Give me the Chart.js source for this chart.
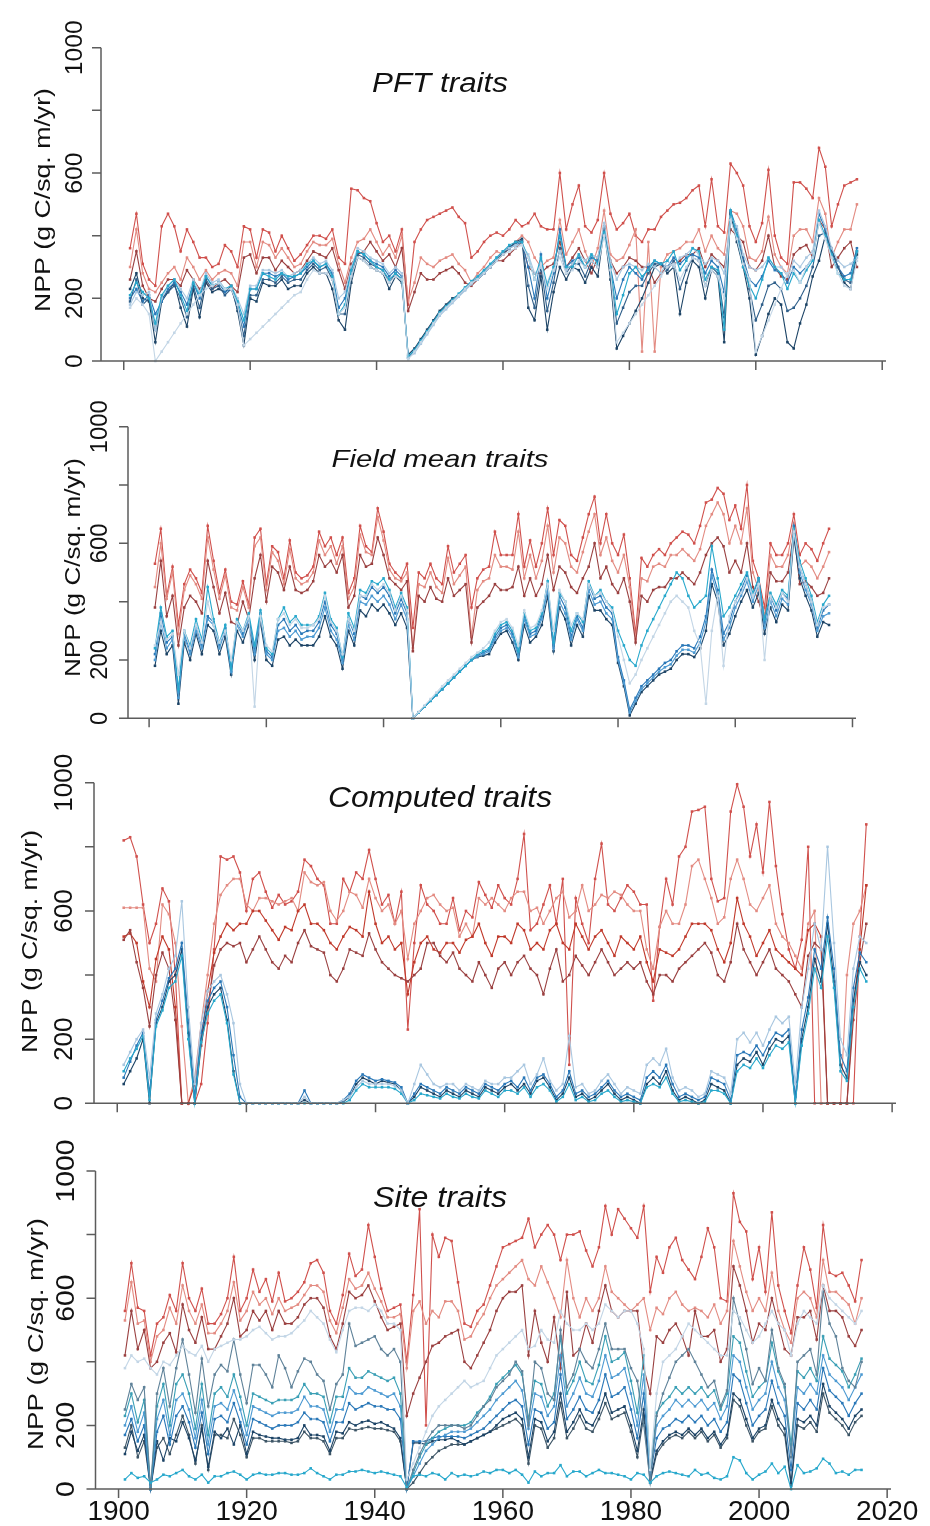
<!DOCTYPE html>
<html>
<head>
<meta charset="utf-8">
<script src="https://cdn.jsdelivr.net/npm/chart.js@4.4.1/dist/chart.umd.min.js"></script>
<style>
  body { margin: 0; background: #fff; width: 930px; height: 1526px; position: relative; overflow: hidden; }
  canvas { position: absolute; left: 0; }
</style>
</head>
<body>
<canvas id="p1" width="930" height="395" style="top:0px"></canvas>
<canvas id="p2" width="930" height="350" style="top:395px"></canvas>
<canvas id="p3" width="930" height="385" style="top:745px"></canvas>
<canvas id="p4" width="930" height="396" style="top:1130px"></canvas>
<script>
// years on the x axis
const years = [
  1901, 1902, 1903, 1904, 1905, 1906, 1907, 1908, 1909, 1910,
  1911, 1912, 1913, 1914, 1915, 1916, 1917, 1918, 1919, 1920,
  1921, 1922, 1923, 1924, 1925, 1926, 1927, 1928, 1929, 1930,
  1931, 1932, 1933, 1934, 1935, 1936, 1937, 1938, 1939, 1940,
  1941, 1942, 1943, 1944, 1945, 1946, 1947, 1948, 1949, 1950,
  1951, 1952, 1953, 1954, 1955, 1956, 1957, 1958, 1959, 1960,
  1961, 1962, 1963, 1964, 1965, 1966, 1967, 1968, 1969, 1970,
  1971, 1972, 1973, 1974, 1975, 1976, 1977, 1978, 1979, 1980,
  1981, 1982, 1983, 1984, 1985, 1986, 1987, 1988, 1989, 1990,
  1991, 1992, 1993, 1994, 1995, 1996, 1997, 1998, 1999, 2000,
  2001, 2002, 2003, 2004, 2005, 2006, 2007, 2008, 2009, 2010,
  2011, 2012, 2013, 2014, 2015, 2016
];
const xTicks = [1900, 1920, 1940, 1960, 1980, 2000, 2020];
const yTicks = [0, 200, 400, 600, 800, 1000];
const yTickLabels = [0, 200, 600, 1000];
const yTitle = "NPP (g C/sq. m/yr)";
const panelTitles = ["PFT traits", "Field mean traits", "Computed traits", "Site traits"];

// ---- panel 1: PFT traits ----
const p1Red1 = [
  360, 470, 310, 260, 240, 430, 470, 430, 350, 420,
  380, 330, 330, 300, 310, 370, 350, 300, 430, 420,
  330, 420, 410, 350, 400, 360, 320, 340, 370, 400,
  400, 390, 420, 330, 310, 550, 545, 520, 510, 440,
  380, 400, 350, 420, 180, 380, 420, 450, 460, 470,
  480, 490, 460, 440, 330, 350, 380, 400, 410, 400,
  420, 450, 430, 440, 470, 430, 420, 420, 600, 420,
  500, 560, 430, 410, 450, 600, 470, 420, 440, 470,
  400, 380, 420, 420, 460, 480, 500, 505, 520, 545,
  560, 430, 580, 430, 410, 630, 600, 560, 430, 380,
  440, 610, 400, 330, 310, 570, 570, 550, 520, 680,
  620, 430, 500, 560, 570, 580
];
const p1Red2 = [
  300, 420, 280, 230, 220, 250, 280, 300, 260, 330,
  300, 260, 290, 260, 280, 290, 280, 240, 380, 380,
  300, 380, 370, 330, 360, 330, 300, 310, 350, 380,
  370, 370, 390, 310, 250, 330, 380, 390, 420, 380,
  340, 370, 330, 400, 190, 250, 330, 310, 300, 320,
  330, 340, 310, 290, 250, 280, 300, 330, 350, 340,
  360, 380, 400, 380, 330, 300, 320, 330, 450, 340,
  380, 420, 350, 300, 360, 480, 340, 320, 330, 370,
  420, 30, 380, 30, 300, 340, 350, 360, 380, 380,
  420, 350, 400, 360, 340, 480, 470, 430, 330, 320,
  350, 460, 340, 300, 280, 400, 420, 420, 380, 520,
  470, 330, 380, 420, 420, 500
];
const p1Red3 = [
  260, 350, 240, 200, 190, 230, 260, 260, 240, 290,
  260, 230, 250, 230, 250, 260, 240, 220, 330, 340,
  280, 330, 330, 290, 320, 300, 280, 290, 320, 350,
  340, 330, 360, 290, 230, 310, 340, 350, 380, 350,
  320, 340, 300, 360, 160, 220, 280, 260, 260, 280,
  290, 300, 280, 250, 240, 260, 280, 300, 320, 320,
  340, 360, 380, 300, 280, 280, 300, 310, 380, 300,
  330, 360, 320, 280, 330, 420, 320, 280, 300, 330,
  320, 300, 300, 250, 280, 300, 310, 320, 340, 340,
  360, 300, 340, 320, 300, 420, 400, 380, 300, 290,
  320, 400, 300, 270, 260, 340, 360, 370, 330, 450,
  420, 300, 330, 360, 380, 300
];
const p1Blue1 = [
  230, 280, 200, 190, 60, 190, 220, 250, 170, 110,
  230, 140, 250, 220, 230, 220, 240, 160, 50, 200,
  190, 250, 240, 240, 260, 230, 240, 240, 280, 300,
  280, 280, 230, 130, 100, 250, 330, 320, 300, 290,
  280, 230, 270, 250, 20, 40, 70, 100, 130, 160,
  180, 200, 210, 230, 250, 260, 280, 300, 320, 340,
  360, 380, 390, 170, 130, 270, 100, 220, 300, 260,
  300, 290, 250, 300, 270, 420, 260, 40, 80, 120,
  160, 200, 250, 300, 310, 280, 300, 150, 250, 320,
  300, 200, 290, 270, 60, 470, 380, 300, 200, 20,
  80, 150, 200, 180, 60, 40, 120, 180, 270, 320,
  400, 360, 300, 250, 230, 340
];
const p1Blue2 = [
  200, 230, 190, 210, 150, 190, 230, 250, 220, 180,
  250, 200, 270, 240, 250, 220, 230, 180, 110, 230,
  230, 280, 280, 270, 280, 260, 270, 280, 300, 320,
  300, 310, 280, 170, 200, 290, 350, 340, 320, 310,
  300, 270, 290, 270, 10, 30, 60, 90, 120, 150,
  170, 190, 210, 230, 250, 260, 280, 300, 330, 350,
  360, 370, 380, 300, 200, 340, 200, 280, 420, 300,
  320, 330, 300, 330, 320, 430, 300, 200, 260, 300,
  280, 260, 300, 320, 310, 300, 330, 310, 330, 340,
  330, 280, 320, 300, 220, 480, 420, 330, 260, 240,
  270, 320, 290, 280, 250, 300, 280, 300, 330, 470,
  420, 350, 300, 270, 280, 360
];
const p1Blue3 = [
  180, 220, 210, 220, 100, 200, 240, 260, 230, 200,
  260, 220, 280, 250, 260, 230, 240, 200, 150, 240,
  240, 290, 290, 280, 290, 270, 280, 290, 310, 330,
  310, 320, 290, 200, 220, 300, 360, 350, 330, 320,
  310, 280, 300, 280, 10, 25, 55, 85, 115, 145,
  165, 185, 205, 225, 245, 265, 285, 305, 330, 350,
  360, 370, 370, 340, 280, 300, 250, 300, 350, 290,
  310, 340, 320, 340, 330, 440, 320, 260, 300, 310,
  300, 290, 310, 300, 280, 320, 300, 330, 340, 360,
  340, 310, 330, 320, 280, 460, 430, 340, 300, 290,
  300, 330, 300, 300, 270, 320, 300, 330, 350, 480,
  430, 360, 320, 300, 310, 330
];
const p1Blue4 = [
  210, 250, 220, 200, 120, 210, 240, 260, 210, 160,
  250, 210, 270, 240, 250, 230, 240, 190, 130, 230,
  230, 280, 270, 260, 280, 270, 270, 280, 310, 320,
  300, 310, 270, 150, 180, 290, 350, 340, 320, 300,
  290, 260, 280, 260, 15, 35, 65, 95, 125, 155,
  175, 195, 215, 235, 255, 270, 290, 310, 330, 350,
  370, 380, 380, 330, 260, 330, 240, 300, 400, 300,
  300, 340, 300, 340, 310, 410, 300, 150, 210, 280,
  300, 270, 290, 320, 310, 320, 350, 290, 320, 360,
  350, 260, 300, 290, 100, 480, 400, 300, 240, 200,
  260, 330, 300, 280, 230, 280, 250, 290, 320, 450,
  400, 340, 280, 260, 260, 350
];
const p1Blue5 = [
  170, 200, 180, 150, 0, 30, 60, 90, 120, 150,
  180, 210, 230, 240, 250, 230, 230, 180, 50, 70,
  90, 110, 130, 150, 170, 190, 210, 220, 260, 290,
  280, 280, 260, 150, 170, 270, 330, 320, 300, 290,
  280, 250, 270, 260, 5, 30, 60, 90, 120, 150,
  170, 190, 210, 230, 250, 260, 280, 300, 320, 340,
  350, 360, 370, 330, 260, 310, 230, 290, 330, 280,
  290, 320, 300, 320, 300, 400, 290, 60, 90, 120,
  150, 180, 210, 240, 270, 300, 310, 260, 300, 330,
  320, 240, 290, 270, 200, 450, 390, 310, 260, 30,
  80, 130, 180, 230, 280, 290, 250, 300, 330, 440,
  390, 330, 280, 240, 230, 320
];
const p1Blue6 = [
  190, 260, 180, 200, 100, 200, 220, 240, 200, 140,
  240, 170, 260, 230, 240, 210, 230, 170, 80, 210,
  210, 260, 260, 250, 270, 250, 260, 260, 290, 310,
  290, 300, 260, 150, 150, 270, 340, 330, 310, 300,
  290, 250, 280, 260, 10, 35, 65, 95, 125, 155,
  175, 195, 210, 230, 250, 265, 285, 305, 325, 345,
  365, 375, 385, 240, 170, 300, 160, 250, 360, 280,
  310, 310, 270, 320, 300, 425, 280, 120, 170, 220,
  240, 240, 280, 310, 310, 290, 320, 230, 290, 330,
  320, 240, 300, 280, 140, 475, 400, 320, 230, 130,
  180, 240, 250, 230, 160, 170, 200, 240, 300, 400,
  410, 350, 300, 260, 250, 350
];

// ---- panel 2: Field mean traits ----
const p2Red1 = [
  530, 650, 420, 520, 320, 460, 510, 480, 430, 660,
  540, 430, 510, 400, 390, 470, 390, 620, 650, 460,
  590, 570, 480, 610, 500, 480, 490, 520, 640, 590,
  620, 560, 620, 430, 480, 660, 590, 570, 720, 640,
  530, 500, 480, 530, 310, 500, 480, 530, 480, 460,
  590, 500, 530, 560, 380, 480, 510, 520, 640, 560,
  560, 560, 700, 520, 610, 520, 600, 720, 560, 680,
  660, 560, 540, 620, 700, 760, 600, 700, 600, 560,
  630, 480, 290, 550, 520, 560, 580, 560, 600, 620,
  640, 630, 600, 660, 740, 750, 790, 770, 680, 730,
  650, 800, 540, 480, 380, 600, 560, 560, 600, 700,
  560, 600, 580, 540, 600, 650
];
const p2Red2 = [
  450, 600, 410, 500, 290, 440, 490, 460, 410, 620,
  510, 410, 490, 380, 370, 450, 380, 590, 620, 440,
  570, 540, 460, 580, 480, 460, 470, 500, 610, 560,
  590, 530, 590, 410, 450, 630, 570, 560, 690, 610,
  510, 480, 470, 500, 240, 460, 450, 500, 450, 430,
  550, 460, 490, 520, 280, 440, 470, 480, 560, 520,
  520, 510, 640, 480, 560, 480, 540, 660, 500, 620,
  600, 520, 500, 570, 640, 700, 560, 620, 540, 500,
  560, 450, 270, 480, 470, 520, 530, 520, 560, 560,
  580, 560, 540, 580, 660, 700, 740, 700, 600, 660,
  600, 720, 500, 440, 350, 560, 520, 520, 560, 670,
  520, 540, 520, 480, 520, 570
];
const p2Red3 = [
  380, 540, 350, 420, 250, 380, 420, 400, 360, 540,
  450, 360, 430, 330, 320, 400, 340, 480, 560, 400,
  520, 500, 440, 520, 440, 430, 440, 470, 560, 520,
  540, 500, 560, 380, 420, 560, 520, 530, 620, 560,
  480, 460, 440, 470, 230, 420, 400, 450, 410, 400,
  480, 420, 440, 460, 260, 380, 400, 420, 460, 440,
  440, 450, 520, 420, 480, 420, 460, 560, 440, 520,
  500, 450, 430, 480, 520, 600, 480, 520, 460, 430,
  480, 400, 260, 420, 400, 440, 450, 450, 480, 480,
  500, 480, 460, 500, 560, 600, 620, 590, 500, 540,
  500, 600, 450, 400, 330, 500, 470, 470, 500, 640,
  460, 470, 450, 420, 430, 480
];
const p2Blue1 = [
  180, 300, 220, 250, 50, 260, 200, 290, 220, 320,
  300, 220, 280, 150, 300, 260, 320, 200, 330, 200,
  180, 270, 280, 250, 270, 250, 250, 250, 280, 350,
  280, 250, 170, 300, 250, 370, 350, 390, 370, 390,
  360, 320, 360, 310, 0, 20, 40, 60, 80, 100,
  120, 140, 160, 180, 200, 210, 215, 220, 260, 290,
  300, 260, 200, 320, 260, 280, 320, 420, 230, 380,
  340, 250, 320, 280, 420, 370, 370, 340, 320, 190,
  110, 10, 50, 90, 110, 130, 150, 160, 170, 200,
  220, 220, 210, 240, 300, 460, 400, 250, 290, 350,
  400, 440, 380, 430, 290, 380, 330, 390, 370, 620,
  480, 420, 370, 280, 330, 320
];
const p2Blue2 = [
  220, 360, 260, 280, 90, 290, 230, 320, 250, 350,
  330, 250, 310, 160, 330, 290, 350, 230, 360, 230,
  210, 320, 340, 300, 320, 290, 300, 300, 330, 400,
  320, 290, 200, 340, 290, 420, 410, 450, 430, 450,
  420, 360, 410, 360, 0, 20, 40, 60, 80, 100,
  120, 140, 160, 180, 200, 215, 225, 235, 280, 310,
  320, 290, 220, 350, 290, 300, 350, 460, 250, 420,
  380, 280, 350, 310, 460, 410, 420, 380, 360, 210,
  130, 30, 70, 110, 130, 150, 170, 190, 200, 230,
  250, 250, 240, 280, 350, 510, 440, 290, 330, 400,
  440, 490, 420, 480, 330, 420, 370, 430, 410, 660,
  520, 460, 400, 310, 370, 390
];
const p2Blue3 = [
  240, 380, 280, 300, 100, 300, 250, 340, 270, 450,
  340, 260, 320, 170, 340, 300, 360, 250, 370, 240,
  220, 340, 380, 330, 350, 320, 320, 320, 350, 430,
  340, 310, 210, 360, 310, 440, 430, 470, 460, 480,
  440, 380, 430, 380, 0, 20, 40, 60, 80, 100,
  120, 140, 160, 180, 200, 220, 230, 240, 290, 320,
  330, 300, 230, 360, 300, 310, 360, 470, 260, 430,
  400, 300, 360, 330, 470, 420, 440, 400, 380, 300,
  250, 200, 180, 250, 300, 340, 380, 420, 460, 500,
  480, 420, 380, 400, 420, 590, 480, 350, 380, 420,
  460, 500, 430, 480, 340, 430, 390, 440, 420, 650,
  540, 480, 420, 330, 390, 420
];
const p2Blue4 = [
  250, 330, 270, 290, 150, 300, 240, 320, 260, 400,
  320, 260, 300, 200, 330, 300, 350, 40, 350, 250,
  230, 340, 360, 320, 340, 310, 310, 320, 340, 420,
  330, 300, 220, 340, 300, 420, 420, 460, 440, 460,
  430, 370, 420, 370, 0, 22, 44, 66, 88, 110,
  130, 150, 170, 190, 210, 225, 240, 260, 300, 330,
  340, 310, 250, 370, 310, 320, 370, 460, 300, 440,
  400, 320, 360, 340, 460, 420, 430, 400, 370, 280,
  200, 120, 150, 200, 240, 280, 320, 360, 400, 420,
  400, 380, 300, 250, 50, 300, 420, 180, 350, 400,
  430, 480, 420, 460, 200, 420, 380, 430, 400, 640,
  520, 460, 400, 320, 380, 390
];
const p2Blue5 = [
  200, 330, 240, 270, 70, 280, 220, 300, 240, 340,
  320, 240, 300, 160, 320, 280, 340, 220, 350, 220,
  200, 300, 310, 280, 300, 270, 280, 280, 310, 380,
  300, 270, 190, 320, 270, 400, 390, 420, 400, 420,
  390, 340, 390, 340, 0, 20, 40, 60, 80, 100,
  120, 140, 160, 180, 200, 212, 220, 230, 270, 300,
  310, 280, 210, 340, 280, 290, 340, 440, 240, 400,
  360, 270, 340, 300, 440, 390, 400, 360, 340, 200,
  120, 20, 60, 100, 120, 140, 160, 175, 185, 215,
  235, 235, 225, 260, 330, 490, 420, 270, 310, 380,
  420, 470, 400, 460, 310, 400, 350, 410, 390, 640,
  500, 440, 390, 300, 350, 360
];

// ---- panel 3: Computed traits ----
const p3Red1 = [
  820, 830, 770, 620, 500, 560, 670, 630, 400, 0,
  0, 0, 60, 250, 480, 770, 760, 770, 720, 600,
  700, 720, 660, 610, 650, 620, 630, 660, 760, 740,
  700, 680, 560, 560, 700, 660, 720, 700, 790, 700,
  620, 650, 560, 660, 230, 500, 680, 620, 600, 560,
  560, 640, 540, 600, 580, 690, 650, 610, 680, 640,
  620, 700, 840, 540, 560, 620, 680, 560, 700, 120,
  640, 560, 500, 700, 810, 620, 600, 640, 680, 660,
  620, 620, 320, 550, 700, 620, 770, 800, 910, 915,
  925, 700, 630, 640, 910, 995, 925, 770, 870, 720,
  940, 740, 590, 480, 420, 510, 800, 0, 0, 0,
  0, 0, 0, 0, 520, 870
];
const p3Red2 = [
  610, 610, 610, 610, 420, 380, 620, 590, 500, 240,
  0, 80, 250, 400, 560, 650, 680, 700, 700, 620,
  600, 640, 640, 630, 620, 630, 640, 600, 720, 690,
  680, 690, 600, 570, 600, 660, 650, 610, 700, 640,
  600, 620, 560, 600, 450, 560, 600, 640, 650, 620,
  600, 610, 520, 560, 520, 640, 620, 640, 620, 600,
  640, 660, 660, 600, 610, 560, 600, 640, 660, 580,
  600, 680, 600, 620, 650, 640, 660, 650, 620, 600,
  600, 480, 420, 550, 600, 560, 560, 620, 740, 760,
  700, 640, 560, 580, 700, 760, 700, 620, 600, 640,
  680, 560, 520, 500, 460, 420, 560, 600, 0, 0,
  0, 0, 400, 560, 600, 680
];
const p3Red3 = [
  520, 530, 500, 380, 300, 450, 520, 480, 300, 0,
  0, 60, 200, 350, 470, 520, 560, 540, 560, 560,
  600, 600, 570, 540, 510, 550, 540, 600, 620, 560,
  560, 540, 500, 480, 520, 550, 540, 520, 660, 560,
  500, 520, 480, 500, 340, 440, 500, 520, 480, 470,
  500, 500, 470, 510, 520, 560, 500, 460, 520, 520,
  500, 560, 540, 480, 500, 480, 540, 560, 500, 480,
  560, 520, 480, 520, 540, 500, 460, 520, 500, 480,
  520, 440, 380, 480, 470, 460, 480, 520, 560, 560,
  560, 540, 480, 440, 500, 640, 560, 520, 460, 500,
  540, 480, 460, 440, 420, 400, 540, 560, 520, 0,
  0, 0, 0, 300, 480, 680
];
const p3Red4 = [
  510, 540, 440, 360, 240, 400, 470, 420, 260, 0,
  0, 0, 180, 300, 430, 480, 500, 490, 500, 440,
  480, 520, 480, 440, 420, 460, 440, 500, 540, 490,
  480, 470, 400, 380, 420, 480, 470, 460, 530, 480,
  440, 420, 400, 390, 380, 400, 420, 500, 500, 460,
  440, 470, 420, 400, 380, 440, 400, 360, 420, 440,
  400, 440, 460, 420, 400, 340, 420, 480, 380, 400,
  460, 430, 400, 440, 480, 440, 400, 420, 440, 420,
  440, 380, 340, 400, 400, 380, 420, 440, 460, 480,
  500, 470, 400, 380, 440, 560, 480, 440, 400, 440,
  480, 420, 400, 380, 340, 300, 460, 500, 480, 0,
  0, 0, 0, 260, 440, 560
];
const p3Blue1 = [
  60, 100, 140, 200, 0, 250, 300, 380, 400, 480,
  220, 0, 200, 300, 340, 360, 260, 100, 0, 0,
  0, 0, 0, 0, 0, 0, 0, 0, 10, 0,
  0, 0, 0, 0, 5, 20, 60, 80, 70, 60,
  70, 65, 60, 40, 0, 20, 50, 40, 30, 20,
  40, 30, 20, 40, 30, 20, 50, 40, 30, 50,
  60, 40, 60, 30, 70, 80, 50, 10, 30, 80,
  20, 30, 10, 20, 40, 60, 30, 10, 20, 10,
  0, 60, 80, 60, 100, 40, 10, 20, 10, 0,
  10, 60, 50, 40, 0, 120, 140, 130, 160, 120,
  170, 200, 190, 210, 0, 200, 300, 450, 380, 560,
  380, 120, 80, 320, 440, 400
];
const p3Blue2 = [
  80, 130, 180, 220, 30, 260, 320, 390, 420, 500,
  260, 20, 220, 320, 360, 380, 300, 150, 20, 0,
  0, 0, 0, 0, 0, 0, 0, 0, 40, 0,
  0, 0, 0, 0, 10, 30, 70, 90, 80, 70,
  75, 70, 65, 50, 0, 30, 60, 50, 40, 30,
  50, 40, 30, 50, 40, 30, 60, 50, 40, 60,
  70, 50, 80, 40, 80, 90, 60, 20, 40, 100,
  30, 40, 20, 30, 50, 70, 40, 20, 30, 20,
  10, 80, 100, 80, 120, 60, 20, 30, 20, 10,
  20, 80, 70, 60, 10, 150, 160, 150, 180, 150,
  190, 220, 210, 230, 20, 230, 330, 480, 420, 580,
  420, 150, 100, 360, 470, 440
];
const p3Blue3 = [
  120, 160, 200, 230, 80, 280, 340, 420, 460, 630,
  300, 60, 250, 350, 380, 400, 340, 250, 60, 0,
  0, 0, 0, 0, 0, 0, 0, 0, 20, 0,
  0, 0, 0, 0, 10, 20, 50, 70, 60, 60,
  60, 60, 55, 40, 0, 60, 120, 90, 60, 50,
  60, 60, 40, 60, 50, 40, 70, 60, 60, 80,
  80, 100, 120, 60, 90, 140, 70, 40, 60, 210,
  50, 60, 30, 40, 70, 90, 60, 30, 50, 40,
  30, 120, 140, 120, 170, 80, 40, 50, 40, 20,
  30, 100, 90, 80, 30, 200, 220, 190, 220, 180,
  230, 270, 250, 270, 60, 300, 420, 560, 480, 800,
  500, 200, 150, 420, 520, 500
];
const p3Blue4 = [
  100, 140, 170, 210, 10, 240, 290, 360, 380, 460,
  200, 0, 190, 280, 320, 340, 250, 90, 0, 0,
  0, 0, 0, 0, 0, 0, 0, 0, 0, 0,
  0, 0, 0, 0, 0, 10, 40, 60, 50, 50,
  50, 50, 45, 30, 0, 10, 30, 25, 20, 15,
  30, 20, 15, 30, 20, 15, 40, 30, 20, 40,
  40, 30, 50, 20, 50, 60, 40, 5, 20, 60,
  10, 20, 5, 10, 30, 40, 20, 5, 10, 5,
  0, 50, 60, 50, 80, 30, 5, 10, 5, 0,
  5, 40, 40, 30, 0, 100, 120, 110, 140, 110,
  150, 180, 170, 190, 0, 180, 280, 420, 360, 520,
  360, 100, 70, 300, 420, 380
];

// ---- panel 4: Site traits ----
const p4Red1 = [
  560, 710, 570, 560, 420, 520, 540, 610, 560, 710,
  600, 560, 630, 520, 520, 550, 600, 730, 560, 600,
  690, 620, 660, 590, 680, 590, 600, 620, 650, 710,
  720, 680, 560, 520, 610, 740, 670, 690, 830, 730,
  630, 560, 570, 580, 400, 610, 880, 200, 800, 730,
  790, 780, 650, 520, 510, 560, 580, 640, 700, 760,
  770, 780, 790, 850, 760, 800, 830, 800, 720, 800,
  800, 810, 750, 700, 760, 890, 800, 880, 850, 820,
  790, 890, 620, 730, 680, 760, 790, 720, 690, 660,
  730, 820, 760, 600, 590, 930, 840, 810, 660, 760,
  620, 870, 640, 560, 490, 640, 760, 690, 570, 830,
  680, 670, 680, 640, 590, 720
];
const p4Red2 = [
  530, 650, 520, 530, 400, 480, 500, 570, 520, 640,
  560, 520, 580, 490, 490, 520, 560, 650, 530, 560,
  620, 580, 600, 550, 600, 560, 570, 580, 610, 640,
  640, 620, 530, 490, 570, 660, 630, 640, 680, 630,
  590, 540, 540, 550, 380, 560, 590, 520, 560, 540,
  590, 590, 560, 470, 480, 520, 550, 600, 640, 660,
  680, 700, 720, 660, 640, 700, 650, 600, 540, 720,
  600, 540, 600, 560, 600, 700, 620, 600, 580, 560,
  580, 600, 500, 570, 550, 600, 620, 580, 560, 570,
  560, 540, 580, 520, 560, 780, 700, 620, 560, 600,
  560, 680, 560, 500, 460, 600, 620, 600, 540, 720,
  620, 620, 600, 580, 520, 600
];
const p4Red3 = [
  420, 560, 440, 500, 380, 400, 460, 490, 430, 580,
  500, 460, 540, 440, 440, 480, 520, 600, 480, 500,
  560, 530, 560, 500, 560, 520, 520, 540, 580, 600,
  600, 570, 480, 440, 520, 620, 600, 610, 640, 590,
  540, 500, 510, 520, 230, 300, 350, 400, 450, 460,
  480, 490, 500, 400, 380, 420, 460, 500, 560, 600,
  620, 620, 640, 420, 560, 460, 400, 540, 380, 620,
  420, 440, 520, 460, 560, 640, 560, 540, 560, 560,
  560, 380, 300, 480, 460, 500, 520, 480, 420, 560,
  480, 480, 500, 400, 440, 700, 640, 560, 460, 520,
  500, 600, 520, 440, 420, 540, 540, 560, 470, 640,
  560, 560, 540, 480, 450, 500
];
const p4Light = [
  380, 420, 400, 410, 380, 360, 400, 390, 420, 450,
  430, 420, 450, 400, 440, 450, 460, 470, 470, 480,
  500, 510, 490, 470, 480, 480, 490, 510, 530, 560,
  540, 520, 470, 430, 500, 560, 570, 570, 560, 580,
  560, 520, 520, 500, 30, 80, 130, 180, 230, 260,
  280, 300, 320, 340, 320, 330, 340, 380, 420, 440,
  460, 480, 500, 440, 450, 500, 470, 460, 560, 520,
  500, 500, 520, 500, 520, 580, 560, 540, 560, 560,
  520, 440, 60, 300, 400, 420, 440, 480, 520, 500,
  480, 460, 440, 420, 420, 560, 540, 500, 460, 480,
  520, 560, 520, 500, 420, 520, 560, 540, 520, 640,
  600, 580, 560, 540, 520, 560
];
const p4Gray = [
  250, 330, 280, 320, 0, 300, 380, 260, 380, 470,
  360, 240, 410, 260, 360, 390, 370, 470, 360, 270,
  390, 390, 360, 320, 420, 380, 320, 370, 410, 400,
  360, 340, 250, 330, 360, 520, 450, 460, 470, 480,
  440, 420, 440, 400, 0, 60, 110, 150, 180, 200,
  200, 200, 200, 190, 200, 230, 260, 280, 320, 340,
  360, 400, 370, 200, 400, 380, 300, 280, 500, 320,
  360, 440, 400, 380, 440, 520, 440, 440, 440, 380,
  340, 200, 20, 230, 300, 350, 400, 420, 440, 400,
  360, 320, 340, 260, 310, 600, 520, 440, 330, 380,
  340, 500, 380, 330, 100, 400, 420, 440, 360, 620,
  520, 480, 380, 340, 320, 400
];
const p4Teal = [
  230, 300, 210, 280, 0, 260, 330, 200, 330, 360,
  300, 190, 330, 170, 300, 320, 290, 360, 290, 200,
  300, 290, 280, 270, 280, 280, 280, 290, 330, 300,
  300, 290, 210, 290, 290, 380, 350, 350, 370, 360,
  350, 340, 350, 300, 0, 50, 100, 140, 160, 180,
  190, 200, 200, 200, 210, 240, 260, 290, 330, 350,
  370, 390, 360, 220, 340, 330, 260, 300, 480, 300,
  340, 400, 340, 330, 390, 480, 400, 410, 430, 340,
  240, 420, 60, 240, 270, 290, 320, 300, 320, 300,
  320, 290, 310, 250, 300, 480, 460, 370, 290, 320,
  340, 460, 370, 320, 140, 370, 350, 380, 340, 480,
  410, 390, 370, 320, 360, 410
];
const p4BlueA = [
  200, 260, 180, 240, 0, 220, 280, 170, 280, 300,
  250, 160, 280, 140, 260, 270, 250, 310, 250, 170,
  260, 250, 240, 230, 240, 240, 240, 250, 290, 260,
  260, 250, 180, 250, 250, 320, 300, 300, 320, 310,
  300, 290, 300, 260, 0, 40, 80, 120, 140, 160,
  170, 180, 180, 180, 190, 210, 230, 250, 280, 300,
  320, 340, 310, 190, 300, 290, 230, 260, 420, 260,
  300, 350, 300, 290, 340, 420, 350, 360, 380, 300,
  200, 360, 50, 200, 230, 250, 280, 260, 280, 260,
  280, 250, 270, 220, 260, 420, 400, 320, 250, 280,
  300, 400, 320, 280, 120, 320, 300, 330, 300, 420,
  360, 340, 320, 280, 320, 360
];
const p4BlueB = [
  170, 220, 150, 200, 0, 180, 230, 140, 230, 260,
  210, 130, 240, 110, 220, 230, 210, 270, 210, 140,
  220, 210, 200, 190, 200, 200, 200, 210, 240, 220,
  220, 210, 150, 210, 210, 270, 250, 260, 270, 260,
  260, 250, 250, 220, 0, 150, 150, 150, 160, 165,
  165, 165, 165, 160, 170, 180, 190, 210, 230, 250,
  270, 280, 260, 140, 250, 240, 190, 210, 360, 220,
  250, 290, 250, 240, 280, 360, 290, 300, 320, 250,
  160, 300, 40, 160, 190, 200, 220, 210, 230, 210,
  230, 200, 220, 180, 210, 360, 340, 270, 200, 230,
  250, 340, 270, 230, 60, 270, 250, 280, 250, 380,
  310, 290, 270, 230, 270, 300
];
const p4BlueC = [
  110, 180, 120, 170, 0, 150, 90, 160, 150, 210,
  160, 90, 190, 70, 180, 160, 190, 140, 200, 110,
  180, 170, 165, 160, 160, 155, 155, 160, 200, 170,
  170, 165, 120, 180, 175, 210, 200, 210, 215, 205,
  210, 200, 190, 160, 0, 145, 145, 140, 150, 155,
  155, 160, 150, 140, 150, 160, 170, 180, 200, 220,
  230, 240, 220, 100, 220, 210, 150, 180, 300, 180,
  210, 250, 210, 200, 240, 300, 240, 250, 260, 200,
  120, 250, 30, 120, 150, 170, 180, 170, 190, 170,
  190, 160, 180, 140, 170, 300, 280, 220, 160, 190,
  200, 280, 220, 190, 20, 220, 210, 230, 200, 330,
  260, 240, 220, 190, 230, 250
];
const p4DarkGray = [
  130, 200, 100, 150, 0, 130, 160, 110, 170, 230,
  170, 80, 200, 60, 170, 170, 160, 220, 170, 100,
  160, 160, 150, 150, 150, 150, 145, 150, 180, 160,
  160, 150, 110, 160, 160, 190, 185, 190, 195, 190,
  190, 185, 180, 150, 0, 20, 50, 80, 100, 120,
  130, 140, 140, 140, 150, 160, 170, 180, 190, 200,
  210, 220, 200, 80, 200, 190, 130, 160, 270, 160,
  190, 230, 190, 180, 220, 270, 220, 230, 240, 180,
  100, 230, 20, 110, 140, 160, 170, 160, 180, 160,
  180, 150, 170, 130, 160, 280, 260, 200, 150, 180,
  190, 260, 200, 170, 10, 200, 190, 210, 180, 300,
  240, 220, 200, 170, 210, 230
];
const p4Cyan = [
  30, 50, 35, 40, 20, 30, 45, 40, 50, 60,
  40, 30, 45, 20, 40, 40, 50, 55, 45, 30,
  45, 50, 45, 45, 50, 50, 45, 45, 50, 65,
  50, 40, 30, 45, 45, 55, 55, 60, 55, 50,
  55, 50, 45, 40, 5, 40, 45, 40, 50, 45,
  30, 50, 40, 45, 40, 45, 55, 50, 60, 60,
  50, 60, 45, 20, 55, 40, 50, 50, 75, 40,
  55, 55, 40, 50, 60, 50, 50, 45, 40, 30,
  50, 45, 20, 40, 50, 55, 50, 45, 40, 60,
  45, 50, 35, 30, 40, 100, 90, 50, 30, 45,
  55, 80, 50, 70, 0, 75, 50, 55, 65, 95,
  80, 50, 55, 45, 60, 60
];

// colours
const RED = "#d0504c", SALMON = "#e38b82", DKRED = "#9a4040", BRICK = "#c0392b";
const NAVY = "#1d4466", BLUE = "#2a78b8", LIGHT = "#a9c7e0", CYAN = "#27a8cc",
      GRAYBLUE = "#5f8299", MIDBLUE = "#4d9ad2", PALE = "#c3d6e6", TEAL = "#3a9fb5",
      SLATE = "#2f5f8a", DKGRAY = "#3d5566";

// page layout of each panel (pixels on the page)
const panels = [
  { id: "p1", top: 0, area: [101, 886, 47.7, 361],
    title: { y: 92, size: 27, width: 136 },
    ticks: { x: 82, size: 23, len: 55 },
    ylab: { x: 50, y: 200, len: 224 }, xlab: false,
    series: [[p1Blue5, PALE], [p1Blue4, CYAN], [p1Blue3, LIGHT], [p1Blue6, SLATE], [p1Blue2, BLUE], [p1Blue1, NAVY],
             [p1Red3, DKRED], [p1Red2, SALMON], [p1Red1, RED]] },
  { id: "p2", top: 395, area: [128, 856, 426.7, 718.3],
    title: { y: 467.3, size: 24, width: 217 },
    ticks: { x: 106.7, size: 23, len: 53 },
    ylab: { x: 80, y: 567.5, len: 219 }, xlab: false,
    series: [[p2Blue4, PALE], [p2Blue3, CYAN], [p2Blue5, MIDBLUE], [p2Blue2, BLUE], [p2Blue1, NAVY],
             [p2Red3, DKRED], [p2Red2, SALMON], [p2Red1, RED]] },
  { id: "p3", top: 745, area: [94, 896, 782.7, 1103.3],
    title: { y: 806.7, size: 30, width: 224 },
    ticks: { x: 71.7, size: 25, len: 58 },
    ylab: { x: 36.7, y: 941.5, len: 223 }, xlab: false,
    series: [[p3Blue3, LIGHT], [p3Blue4, CYAN], [p3Blue2, BLUE], [p3Blue1, NAVY],
             [p3Red4, DKRED], [p3Red3, BRICK], [p3Red2, SALMON], [p3Red1, RED]] },
  { id: "p4", top: 1130, area: [95.5, 891, 1171, 1489],
    title: { y: 1207.3, size: 29, width: 134 },
    ticks: { x: 74, size: 26, len: 63 },
    ylab: { x: 43.3, y: 1334, len: 232 }, xlab: { y: 1520, size: 28 },
    series: [[p4Cyan, CYAN], [p4Light, PALE], [p4Gray, GRAYBLUE], [p4Teal, TEAL], [p4BlueA, MIDBLUE], [p4BlueB, BLUE],
             [p4BlueC, NAVY], [p4DarkGray, DKGRAY], [p4Red3, DKRED], [p4Red2, SALMON], [p4Red1, RED]] }
];

const FONT = '"Liberation Sans", Arial, Helvetica, sans-serif';

function drawText(ctx, txt, x, y, font, rot, targetLen, sx) {
  ctx.save();
  ctx.translate(x, y);
  if (rot) ctx.rotate(rot);
  ctx.font = font;
  let s = sx || 1;
  if (targetLen) s = targetLen / ctx.measureText(txt).width;
  ctx.scale(s, 1);
  ctx.textAlign = "center";
  ctx.textBaseline = "alphabetic";
  ctx.fillStyle = "#111";
  ctx.fillText(txt, 0, 0);
  ctx.restore();
}

// R-style axes, labels and panel title
const rAxes = {
  id: "rAxes",
  afterDraw(chart, args, o) {
    const ctx = chart.ctx, xs = chart.scales.x, ys = chart.scales.y, a = chart.chartArea;
    const off = o.top;
    ctx.save();
    ctx.strokeStyle = "#5c5c5c";
    ctx.lineWidth = 1.5;
    ctx.beginPath();
    ctx.moveTo(a.left, ys.getPixelForValue(0));
    ctx.lineTo(a.left, ys.getPixelForValue(1000));
    yTicks.forEach(v => {
      const y = ys.getPixelForValue(v);
      ctx.moveTo(a.left, y);
      ctx.lineTo(a.left - 9, y);
    });
    ctx.moveTo(a.left - 9, a.bottom);
    ctx.lineTo(a.right, a.bottom);
    xTicks.forEach(v => {
      const x = xs.getPixelForValue(v);
      ctx.moveTo(x, a.bottom);
      ctx.lineTo(x, a.bottom + 9);
    });
    ctx.stroke();
    ctx.restore();

    // y tick labels, rotated like R
    const tf = o.ticks.size + "px " + FONT;
    ctx.save();
    ctx.font = tf;
    const tsx = o.ticks.len / ctx.measureText("1000").width;
    ctx.restore();
    yTickLabels.forEach(v => {
      drawText(ctx, String(v), o.ticks.x, ys.getPixelForValue(v), tf, -Math.PI / 2, null, tsx);
    });
    // y axis title
    drawText(ctx, yTitle, o.ylab.x, o.ylab.y - off, "22px " + FONT, -Math.PI / 2, o.ylab.len);
    // panel title
    drawText(ctx, o.label, 440, o.title.y - off, "italic " + o.title.size + "px " + FONT, 0, o.title.width);
    // x tick labels only on the bottom panel
    if (o.xlab) {
      xTicks.forEach(v => {
        drawText(ctx, String(v), xs.getPixelForValue(v), o.xlab.y - off, o.xlab.size + "px " + FONT, 0);
      });
    }
  }
};

panels.forEach((p, i) => {
  const [l, r, t, b] = p.area;
  const cv = document.getElementById(p.id);
  const datasets = p.series.map(([vals, col]) => ({
    data: years.map((yr, k) => ({ x: yr, y: vals[k] })),
    borderColor: col,
    backgroundColor: col,
    borderWidth: 1.1,
    pointRadius: 1.8,
    pointStyle: "rect",
    pointBorderWidth: 0,
    clip: false
  }));
  new Chart(cv.getContext("2d"), {
    type: "line",
    data: { datasets },
    options: {
      responsive: false,
      animation: false,
      layout: { padding: { left: l, right: 930 - r, top: t - p.top, bottom: cv.height - (b - p.top) } },
      scales: {
        x: { type: "linear", min: 1896.4, max: 2020.6, display: false },
        y: { type: "linear", min: 0, max: 1000, display: false }
      },
      elements: { line: { tension: 0 } },
      plugins: {
        legend: { display: false },
        tooltip: { enabled: false },
        rAxes: { top: p.top, label: panelTitles[i], title: p.title, ticks: p.ticks, ylab: p.ylab, xlab: p.xlab }
      }
    },
    plugins: [rAxes]
  });
});
</script>
</body>
</html>
